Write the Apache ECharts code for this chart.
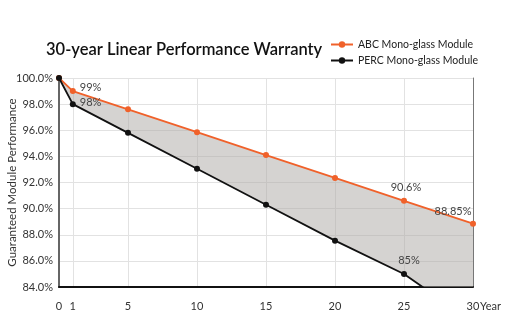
<!DOCTYPE html>
<html>
<head>
<meta charset="utf-8">
<script src="https://cdn.jsdelivr.net/npm/echarts@6/dist/echarts.min.js"></script>
<style>
  html, body { margin: 0; padding: 0; background: #fff; }
  #chart { width: 525px; height: 326px; }
</style>
</head>
<body>
<div id="chart"></div>
<script>
// Warranty years and guaranteed output of each module type
const years = [0, 1, 5, 10, 15, 20, 25, 30];
const abcValues = [100, 99, 97.6, 95.85, 94.1, 92.35, 90.6, 88.85];
const percValues = [100, 98, 95.8, 93.05, 90.3, 87.55, 85, 81.3];
// Points that carry a value label, by index
const abcLabelled = [1, 6, 7];
const percLabelled = [1, 6];
// Axis ticks
const xTicks = [0, 1, 5, 10, 15, 20, 25, 30];
const yMin = 84, yMax = 100, yStep = 2;

const ORANGE = '#f0612a';
const BLACK = '#111111';
const FONT = 'Lato, "Noto Sans", sans-serif';

const labelPos = {
  abc: { 1: { position: 'right', offset: [-1, -4] }, 6: { position: 'top', offset: [2, 0] }, 7: { position: 'top', offset: [-20, 1] } },
  perc: { 1: { position: 'right', offset: [-1, -2] }, 6: { position: 'top', offset: [5, 0] } }
};

function buildData(vals, labelled, key, hideLast) {
  return years.map((y, i) => {
    const item = { value: [y, vals[i]] };
    if (labelled.includes(i)) {
      item.label = Object.assign({ show: true }, labelPos[key][i]);
    }
    if (hideLast && i === years.length - 1) {
      item.symbol = 'none';
    }
    return item;
  });
}

// Shaded band between the two warranty curves, clipped to the plot area
function renderBand(params, api) {
  const upper = years.map((y, i) => api.coord([y, abcValues[i]]));
  const lower = years.map((y, i) => api.coord([y, percValues[i]])).reverse();
  const cs = params.coordSys;
  return {
    type: 'polygon',
    shape: { points: upper.concat(lower) },
    style: { fill: 'rgba(172,168,164,0.5)' },
    clipPath: { type: 'rect', shape: { x: cs.x, y: cs.y, width: cs.width, height: cs.height } }
  };
}

const chart = echarts.init(document.getElementById('chart'), null, { renderer: 'canvas' });

const labelStyle = {
  color: '#444',
  fontSize: 11,
  fontFamily: FONT,
  formatter: (p) => p.value[1] + '%'
};

const gridLine = { show: true, lineStyle: { color: '#e2e2e2', width: 1 } };

chart.setOption({
  backgroundColor: '#ffffff',
  animation: false,
  title: {
    text: '30-year Linear Performance Warranty',
    left: 41,
    top: 36,
    textStyle: { fontFamily: FONT, fontSize: 16.5, fontWeight: 600, color: '#111' }
  },
  legend: {
    orient: 'vertical',
    left: 325,
    top: 34,
    itemWidth: 22,
    itemHeight: 8,
    itemGap: 5,
    data: ['ABC Mono-glass Module', 'PERC Mono-glass Module'],
    textStyle: { fontFamily: FONT, fontSize: 10.5, color: '#222' }
  },
  grid: { left: 59, right: 52, top: 78, bottom: 39, outerBoundsMode: 'none' },
  xAxis: {
    type: 'value',
    min: 0,
    max: 30,
    name: 'Year',
    nameLocation: 'end',
    nameGap: 7,
    nameMoveOverlap: false,
    nameTextStyle: { fontFamily: FONT, fontSize: 11, color: '#333', verticalAlign: 'top', padding: [14, 0, 0, 0] },
    axisLine: { show: true, lineStyle: { color: '#111', width: 2 } },
    axisTick: { show: false, customValues: xTicks },
    axisLabel: { customValues: xTicks, margin: 14, fontFamily: FONT, fontSize: 11, color: '#333' },
    splitLine: gridLine
  },
  yAxis: [
    {
      type: 'value',
      min: yMin,
      max: yMax,
      interval: yStep,
      name: 'Guaranteed Module Performance',
      nameLocation: 'middle',
      nameGap: 41,
      nameMoveOverlap: false,
      nameTextStyle: { fontFamily: FONT, fontSize: 11.5, color: '#333' },
      axisLine: { show: true, lineStyle: { color: '#666', width: 2 } },
      axisTick: { show: false },
      axisLabel: { margin: 6, fontFamily: FONT, fontSize: 11, color: '#333', formatter: (v) => v.toFixed(1) + '%' },
      splitLine: gridLine
    },
    {
      // right-hand frame edge of the plot
      type: 'value',
      position: 'right',
      min: yMin,
      max: yMax,
      interval: yStep,
      axisLine: { show: true, lineStyle: { color: '#777', width: 1 } },
      axisTick: { show: false },
      axisLabel: { show: false },
      splitLine: { show: false }
    }
  ],
  series: [
    {
      name: 'band',
      type: 'custom',
      z: 1,
      silent: true,
      data: [[0, yMax]],
      renderItem: renderBand
    },
    {
      name: 'ABC Mono-glass Module',
      type: 'line',
      z: 4,
      clip: true,
      data: buildData(abcValues, abcLabelled, 'abc', false),
      symbol: 'circle',
      symbolSize: 6,
      color: ORANGE,
      lineStyle: { color: ORANGE, width: 1.8 },
      itemStyle: { color: ORANGE },
      label: Object.assign({ show: false }, labelStyle)
    },
    {
      name: 'PERC Mono-glass Module',
      type: 'line',
      z: 5,
      clip: true,
      data: buildData(percValues, percLabelled, 'perc', true),
      symbol: 'circle',
      symbolSize: 6,
      color: BLACK,
      lineStyle: { color: BLACK, width: 1.8 },
      itemStyle: { color: BLACK },
      label: Object.assign({ show: false }, labelStyle)
    }
  ]
});
</script>
</body>
</html>
